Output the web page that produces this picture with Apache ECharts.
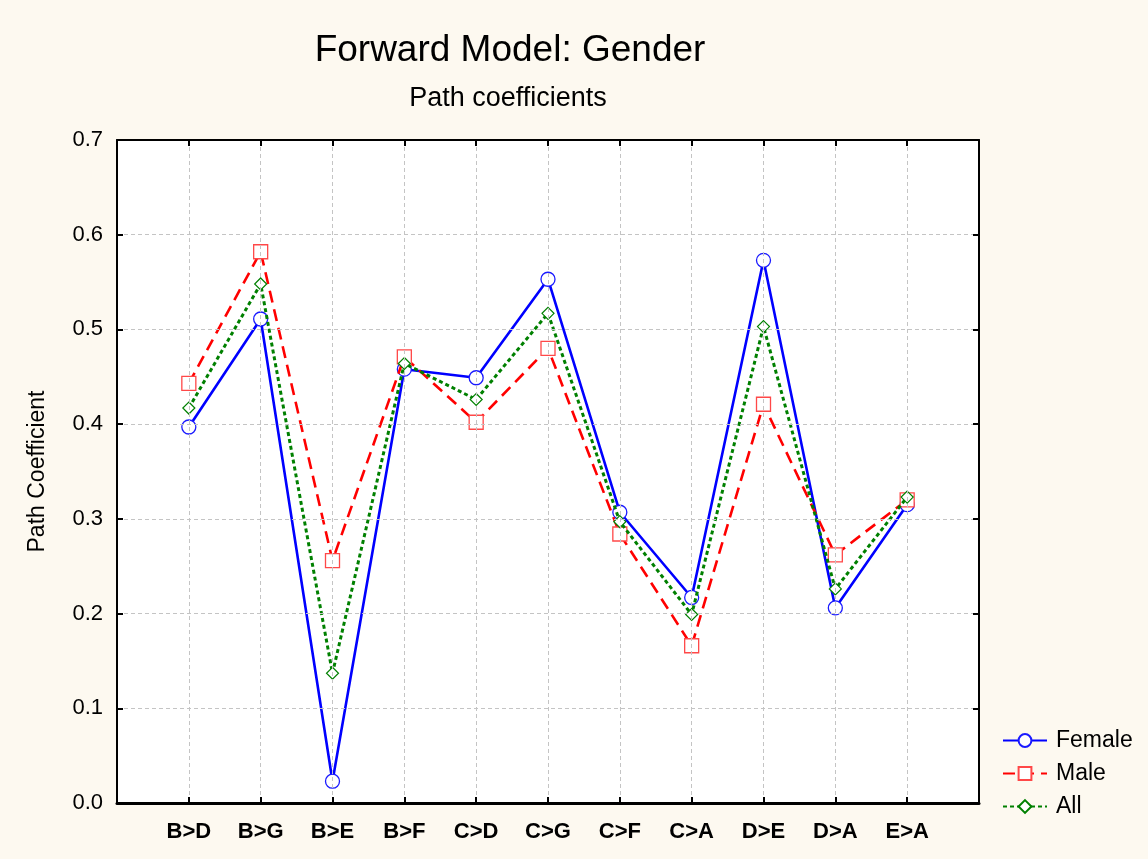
<!DOCTYPE html>
<html>
<head>
<meta charset="utf-8">
<title>Forward Model: Gender</title>
<script src="https://cdn.jsdelivr.net/npm/echarts@6/dist/echarts.min.js"></script>
<style>
  html, body { margin: 0; padding: 0; background: #fdf9f0; }
  #chart { width: 1148px; height: 859px; }
</style>
</head>
<body>
<div id="chart"></div>
<script>
// path labels along the x axis
var categories = ["B>D", "B>G", "B>E", "B>F", "C>D", "C>G", "C>F", "C>A", "D>E", "D>A", "E>A"];

// path coefficients
var female = [0.397, 0.511, 0.023, 0.458, 0.449, 0.553, 0.307, 0.217, 0.573, 0.206, 0.315];
var male   = [0.443, 0.582, 0.256, 0.471, 0.402, 0.480, 0.284, 0.166, 0.421, 0.262, 0.320];
var all    = [0.417, 0.548, 0.137, 0.464, 0.426, 0.517, 0.297, 0.199, 0.503, 0.226, 0.323];

var yTicks = ["0.0", "0.1", "0.2", "0.3", "0.4", "0.5", "0.6", "0.7"];

var FONT = "'Liberation Sans', Arial, sans-serif";

function toPoints(values) {
  var pts = [];
  for (var i = 0; i < values.length; i++) {
    pts.push([i, values[i]]);
  }
  return pts;
}

var chart = echarts.init(document.getElementById("chart"));

var dashedGrid = { show: true, lineStyle: { color: "#c4c4c4", type: [4, 3], width: 1 } };
var frameTick = { show: true, inside: true, length: 6, lineStyle: { color: "#000", width: 2 } };

chart.setOption({
  backgroundColor: "#fdf9f0",
  animation: false,
  textStyle: { fontFamily: FONT },
  title: [
    {
      text: "Forward Model: Gender",
      left: 505,
      top: 27,
      textAlign: "center",
      textStyle: { fontFamily: FONT, fontSize: 37, fontWeight: "normal", color: "#000" }
    },
    {
      text: "Path coefficients",
      left: 503,
      top: 80,
      textAlign: "center",
      textStyle: { fontFamily: FONT, fontSize: 27, fontWeight: "normal", color: "#000" }
    }
  ],
  legend: {
    orient: "vertical",
    left: 997,
    top: 724,
    itemWidth: 44,
    itemHeight: 16,
    itemGap: 10,
    textStyle: { fontFamily: FONT, fontSize: 23, color: "#000", padding: [0, 0, 0, 4] },
    data: ["Female", "Male", "All"]
  },
  grid: {
    left: 117,
    right: 169,
    top: 140,
    bottom: 56,
    show: true,
    backgroundColor: "#ffffff",
    borderColor: "#000",
    borderWidth: 0
  },
  xAxis: [
    {
      type: "value",
      min: -1,
      max: 11,
      interval: 1,
      axisLine: { show: true, onZero: false, lineStyle: { color: "#000", width: 3 } },
      axisTick: frameTick,
      axisLabel: {
        margin: 18,
        fontFamily: FONT,
        fontSize: 22,
        fontWeight: "bold",
        color: "#000",
        formatter: function (v) {
          return categories[v] !== undefined ? categories[v] : "";
        }
      },
      splitLine: dashedGrid,
      z: 5
    },
    {
      type: "value",
      position: "top",
      min: -1,
      max: 11,
      interval: 1,
      axisLine: { show: true, onZero: false, lineStyle: { color: "#000", width: 2 } },
      axisTick: frameTick,
      axisLabel: { show: false },
      splitLine: { show: false },
      z: 5
    }
  ],
  yAxis: [
    {
      type: "value",
      min: 0,
      max: 0.7,
      interval: 0.1,
      name: "Path Coefficient",
      nameLocation: "middle",
      nameGap: 68,
      nameTextStyle: { fontFamily: FONT, fontSize: 23, color: "#000" },
      axisLine: { show: true, onZero: false, lineStyle: { color: "#000", width: 2 } },
      axisTick: frameTick,
      axisLabel: {
        margin: 14,
        fontFamily: FONT,
        fontSize: 22,
        color: "#000",
        formatter: function (v) {
          return yTicks[Math.round(v * 10)];
        }
      },
      splitLine: dashedGrid,
      z: 5
    },
    {
      type: "value",
      position: "right",
      min: 0,
      max: 0.7,
      interval: 0.1,
      axisLine: { show: true, onZero: false, lineStyle: { color: "#000", width: 2 } },
      axisTick: frameTick,
      axisLabel: { show: false },
      splitLine: { show: false },
      z: 5
    }
  ],
  series: [
    {
      name: "Female",
      type: "line",
      data: toPoints(female),
      symbol: "circle",
      symbolSize: 14,
      lineStyle: { color: "#0000ff", width: 2.6, type: "solid" },
      itemStyle: { color: "#ffffff", borderColor: "#1a1aff", borderWidth: 1.3 },
      z: 2
    },
    {
      name: "Male",
      type: "line",
      data: toPoints(male),
      symbol: "rect",
      symbolSize: 14,
      lineStyle: { color: "#ff0000", width: 2.6, type: [12, 7] },
      itemStyle: { color: "#ffffff", borderColor: "#ff4848", borderWidth: 1.3 },
      z: 3
    },
    {
      name: "All",
      type: "line",
      data: toPoints(all),
      symbol: "diamond",
      symbolSize: [12, 12],
      lineStyle: { color: "#008000", width: 3, type: [4, 3] },
      itemStyle: { color: "#ffffff", borderColor: "#008000", borderWidth: 1.2 },
      z: 4
    }
  ]
});
</script>
</body>
</html>
